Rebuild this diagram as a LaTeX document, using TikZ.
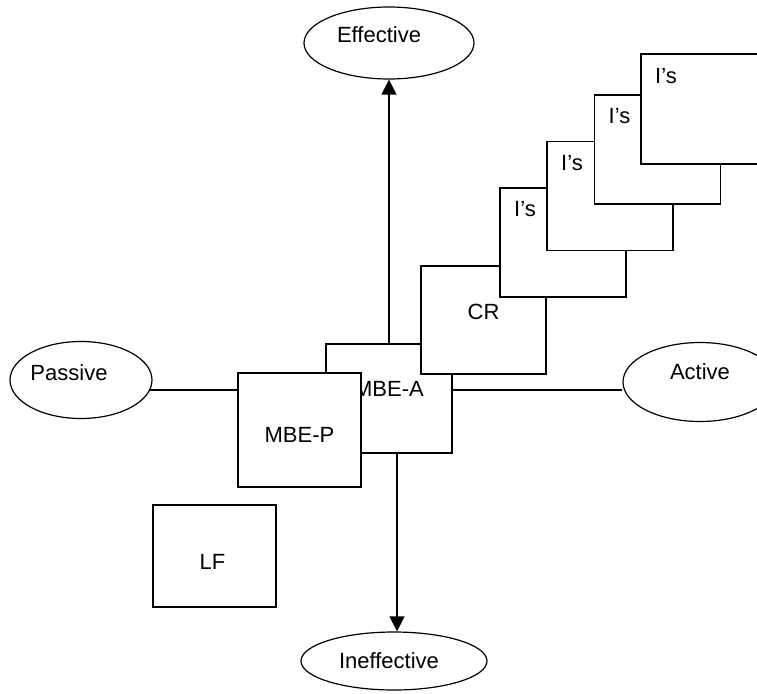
\documentclass[tikz,border=0pt]{standalone}
\usepackage{fontspec}
\setmainfont{Liberation Sans}
\usetikzlibrary{shapes.geometric,arrows.meta}
\begin{document}
\begin{tikzpicture}[x=1pt,y=-1pt,
  every node/.style={font=\fontsize{22}{26}\selectfont},
  every label/.style={inner sep=0pt},
  oval/.style={draw,ellipse,fill=white,line width=1.2pt,inner sep=0pt},
  sbox/.style={draw,rectangle,fill=white,line width=1.3pt,inner sep=0pt,minimum width=126pt,minimum height=109pt},
  islabel/.style={label={[xshift=-38pt,yshift=33pt]center:I’s}},
  conn/.style={line width=1.5pt},
  arr/.style={line width=1.3pt,-{Triangle[length=15pt,width=15pt]}}]
\clip (0,0) rectangle (757,693);
% ellipses
\node[oval,minimum width=170pt,minimum height=72pt,
  label={[xshift=-10pt,yshift=8pt]center:Effective}] (eff) at (389,43) {};
\node[oval,minimum width=186pt,minimum height=58pt,
  label={[xshift=-5pt,yshift=0pt]center:Ineffective}] (ineff) at (394,661) {};
\node[oval,minimum width=142pt,minimum height=77pt,
  label={[xshift=-12pt,yshift=7pt]center:Passive}] (pas) at (81,380) {};
\node[oval,minimum width=154pt,minimum height=79pt,
  label={[xshift=0pt,yshift=10pt]center:Active}] (act) at (700,382) {};
% horizontal connector, drawn before the boxes that cover it
\draw[conn] (pas.-8) -- (pas.-8 -| act.west);
% boxes
\node[sbox,label={[yshift=10pt]center:MBE-A}] (mbea) at (389,398.5) {};
\draw[arr] (mbea.north) -- (eff.south);
\draw[arr] ([xshift=8pt]mbea.south) -- ([xshift=3pt]ineff.north);
\node[sbox,minimum width=125pt,minimum height=108pt,
  label={[yshift=8pt]center:CR}] (cr) at (483.5,320) {};
\node[sbox,islabel] (i1) at (563,242.5) {};
\node[sbox,islabel] (i2) at (610,196) {};
\node[sbox,islabel] (i3) at (657.5,149.5) {};
\node[sbox,islabel,minimum height=110pt] (i4) at (704,109) {};
\node[sbox,minimum width=123pt,minimum height=114pt,
  label={[yshift=-5pt]center:MBE-P}] (mbep) at (299.5,430) {};
\node[sbox,minimum width=123pt,minimum height=102pt,
  label={[xshift=-2pt,yshift=-6pt]center:LF}] (lf) at (214.5,556) {};
\end{tikzpicture}
\end{document}
